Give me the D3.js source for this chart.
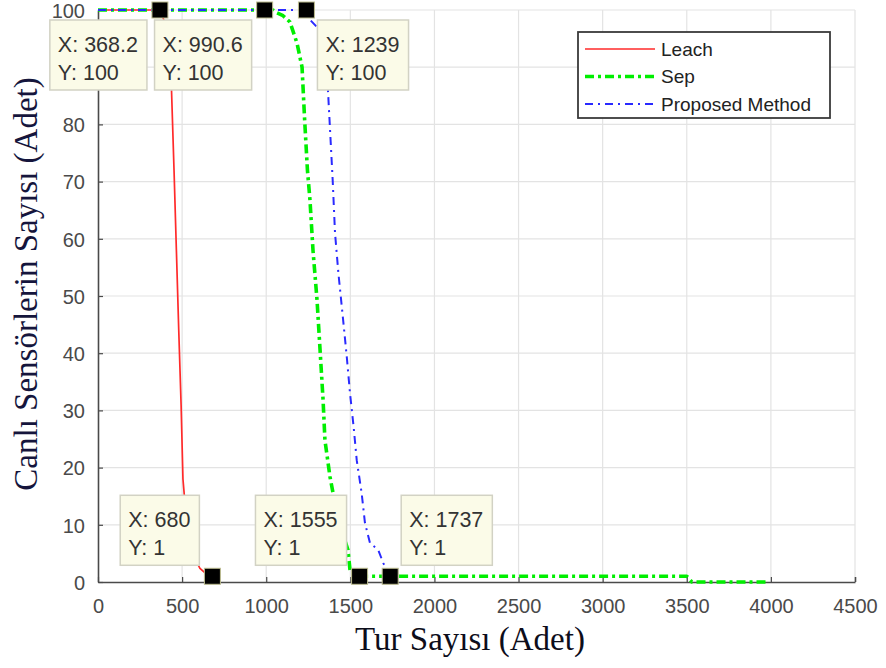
<!DOCTYPE html>
<html>
<head>
<meta charset="utf-8">
<script src="https://cdn.jsdelivr.net/npm/d3@7"></script>
<style>
  body { margin: 0; background: #fff; }
  svg { display: block; }
</style>
</head>
<body>
<script>
// chart data
var xTicks = [0, 500, 1000, 1500, 2000, 2500, 3000, 3500, 4000, 4500];
var yTicks = [0, 10, 20, 30, 40, 50, 60, 70, 80, 90, 100];

var leachX = [0, 368.2, 395, 418, 437, 452, 466, 480, 494, 505, 525, 550, 578, 606, 640, 680];
var leachY = [100, 100, 98, 94, 86, 72, 58, 44, 31, 18, 11, 6.5, 4, 2.4, 1.5, 1];

var sepX = [0, 990.6, 1040, 1064, 1100, 1141, 1183, 1213, 1228, 1245, 1260, 1278, 1302, 1320, 1338, 1349, 1379, 1397, 1430, 1460, 1486, 1498, 1555, 3500, 3530, 3985];
var sepY = [100, 100, 100, 99.5, 99, 97.9, 94.2, 90, 81, 72, 66.8, 58, 49.3, 40.6, 31.8, 24.8, 18.4, 15.6, 11, 8, 5.6, 2.1, 1, 1, 0, 0];

var propX = [0, 1239, 1260, 1302, 1335, 1367, 1395, 1409, 1429, 1460, 1480, 1498, 1520, 1538, 1567, 1587, 1617, 1666, 1696, 1737];
var propY = [100, 100, 98.3, 97, 93, 86, 70.3, 61, 54, 45, 39, 33, 27, 21.3, 15.6, 10.3, 6.8, 5.6, 3.3, 1];

var seriesNames = ["Leach", "Sep", "Proposed Method"];

// data tips
var tipX = [368.2, 990.6, 1239, 680, 1555, 1737];
var tipY = [100, 100, 100, 1, 1, 1];
var tipXText = ["368.2", "990.6", "1239", "680", "1555", "1737"];

var width = 886, height = 668;
var plotL = 98, plotR = 855, plotT = 10, plotB = 582;

var svg = d3.select("body").append("svg")
    .attr("width", width)
    .attr("height", height);

var x = d3.scaleLinear().domain([0, 4500]).range([plotL, plotR]);
var y = d3.scaleLinear().domain([0, 100]).range([plotB, plotT]);

// grid
svg.append("g").selectAll("line")
    .data(xTicks.slice(1))
    .enter().append("line")
    .attr("x1", function(d) { return x(d); })
    .attr("x2", function(d) { return x(d); })
    .attr("y1", plotT).attr("y2", plotB)
    .attr("stroke", "#e3e3e3").attr("stroke-width", 1.2);

svg.append("g").selectAll("line")
    .data(yTicks.slice(1))
    .enter().append("line")
    .attr("y1", function(d) { return y(d); })
    .attr("y2", function(d) { return y(d); })
    .attr("x1", plotL).attr("x2", plotR)
    .attr("stroke", "#e3e3e3").attr("stroke-width", 1.2);

// axes
var xAxis = svg.append("g")
    .attr("transform", "translate(0," + plotB + ")")
    .call(d3.axisBottom(x).tickValues(xTicks).tickFormat(d3.format("d"))
        .tickSizeInner(-5).tickSizeOuter(0).tickPadding(17));
var yAxis = svg.append("g")
    .attr("transform", "translate(" + plotL + ",0)")
    .call(d3.axisLeft(y).tickValues(yTicks).tickFormat(d3.format("d"))
        .tickSizeInner(-5).tickSizeOuter(0).tickPadding(13));

[xAxis, yAxis].forEach(function(a) {
    a.select(".domain").attr("stroke", "#4a4a4a").attr("stroke-width", 1.6);
    a.selectAll(".tick line").attr("stroke", "#4a4a4a").attr("stroke-width", 1.2);
    a.selectAll(".tick text")
        .attr("fill", "#4a4a4a")
        .style("font-family", "'Liberation Sans', Arial, sans-serif")
        .style("font-size", "20px");
});
yAxis.selectAll(".tick text").attr("dy", "0.36em");
yAxis.selectAll(".tick").filter(function(d) { return d === 100; }).select("line").remove();
xAxis.selectAll(".tick").filter(function(d) { return d === 4500; }).select("line")
    .attr("stroke-width", 1.6);

// lines
var line = d3.line()
    .x(function(d) { return x(d[0]); })
    .y(function(d) { return y(d[1]); });

function pairs(xs, ys) {
    return xs.map(function(v, i) { return [v, ys[i]]; });
}

var styles = [
    { color: "#ff2a2a", w: 1.7, dash: null },
    { color: "#00ee00", w: 3.6, dash: "9,4,3,4" },
    { color: "#2a2aff", w: 2, dash: "8,5,2,5" }
];
var seriesData = [pairs(leachX, leachY), pairs(sepX, sepY), pairs(propX, propY)];

seriesData.forEach(function(data, i) {
    svg.append("path")
        .datum(data)
        .attr("d", line)
        .attr("fill", "none")
        .attr("stroke", styles[i].color)
        .attr("stroke-width", styles[i].w)
        .attr("stroke-dasharray", styles[i].dash)
        .attr("stroke-linejoin", "round");
});

// data tips (the box over the "90" label hides it, as in the original)
var tipSide = ["left", "left", "right", "left", "left", "right"];
var tipFont = "'Liberation Sans', Arial, sans-serif";

yAxis.selectAll(".tick").filter(function(d) { return d === 90; }).select("text")
    .attr("opacity", 0);

tipX.forEach(function(v, i) {
    var mx = x(v), my = y(tipY[i]);
    var g = svg.append("g");
    var t1 = g.append("text").text("X: " + tipXText[i]);
    var t2 = g.append("text").text("Y: " + tipY[i]);
    g.selectAll("text")
        .attr("fill", "#333")
        .style("font-family", tipFont)
        .style("font-size", "21.5px");
    var tw = Math.max(t1.node().getComputedTextLength(), t2.node().getComputedTextLength());
    var bw = tw + 17, bh = 70;
    var bx = tipSide[i] === "left" ? mx - 13 - bw : mx + 11;
    var by = tipY[i] > 50 ? my + 10 : my - 11 - bh;
    g.insert("rect", "text")
        .attr("x", bx).attr("y", by)
        .attr("width", bw).attr("height", bh)
        .attr("fill", "#fbfbe8")
        .attr("stroke", "#d2d2c4")
        .attr("stroke-width", 1.5);
    t1.attr("x", bx + 8).attr("y", by + 32);
    t2.attr("x", bx + 8).attr("y", by + 60);
});

tipX.forEach(function(v, i) {
    svg.append("rect")
        .attr("x", x(v) - 8).attr("y", y(tipY[i]) - 8)
        .attr("width", 16).attr("height", 16)
        .attr("fill", "#000")
        .attr("stroke", "#bdbd90")
        .attr("stroke-width", 1);
});

// legend
var lg = svg.append("g");
lg.append("rect")
    .attr("x", 578).attr("y", 32)
    .attr("width", 252).attr("height", 86)
    .attr("fill", "#fff")
    .attr("stroke", "#3a3a3a")
    .attr("stroke-width", 1.8);
seriesNames.forEach(function(name, i) {
    var ly = 49 + i * 27.5;
    lg.append("line")
        .attr("x1", 585).attr("x2", 655)
        .attr("y1", ly).attr("y2", ly)
        .attr("stroke", styles[i].color)
        .attr("stroke-width", styles[i].w)
        .attr("stroke-dasharray", styles[i].dash);
    lg.append("text")
        .attr("x", 661).attr("y", ly)
        .attr("dy", "0.36em")
        .attr("fill", "#222")
        .style("font-family", tipFont)
        .style("font-size", "19px")
        .text(name);
});

// axis titles
svg.append("text")
    .attr("x", 470)
    .attr("y", 650)
    .attr("text-anchor", "middle")
    .attr("fill", "#0d0d1a")
    .style("font-family", "'Liberation Serif', 'Times New Roman', serif")
    .style("font-size", "33px")
    .text("Tur Sayısı (Adet)");

svg.append("text")
    .attr("transform", "translate(37,284) rotate(-90)")
    .attr("text-anchor", "middle")
    .attr("fill", "#15153c")
    .style("font-family", "'Liberation Serif', 'Times New Roman', serif")
    .style("font-size", "33px")
    .text("Canlı Sensörlerin Sayısı (Adet)");
</script>
</body>
</html>
